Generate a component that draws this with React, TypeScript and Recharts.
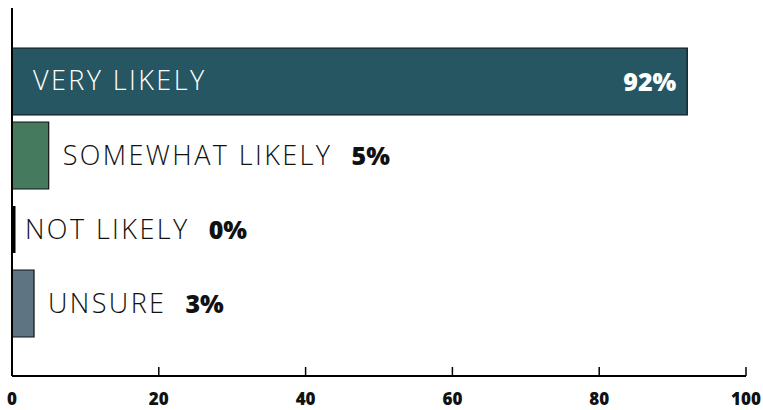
import React from "react";
import { BarChart, Bar, XAxis, YAxis, Cell, LabelList, ReferenceLine, Rectangle } from "recharts";

const categories = ["VERY LIKELY", "SOMEWHAT LIKELY", "NOT LIKELY", "UNSURE"];
const values = [92, 5, 0, 3];
const colors = ["#275663", "#457a5f", "#000000", "#5e7483"];
const xTicks = [0, 20, 40, 60, 80, 100];

const data = categories.map((name, i) => ({ name, value: values[i] }));

const LIGHT = "'Open Sans', sans-serif";
const BOLD = "'Open Sans', sans-serif";
const NAME_SIZE = 27;
const VALUE_SIZE = 25;
const SPACING = 2.4;

const renderLabel = (props: any) => {
  const { x, y, width, height, index } = props;
  const name = categories[index];
  const v = values[index];
  const base = y + height / 2 + 9;
  if (v > 50) {
    return (
      <g>
        <text x={x + 21} y={base - 1} fill="#ffffff" fontFamily={LIGHT} fontWeight={300} fontSize={NAME_SIZE} letterSpacing={SPACING}>
          {name}
        </text>
        <text x={x + width - 11} y={base} fill="#ffffff" textAnchor="end" fontFamily={BOLD} fontWeight={800} fontSize={VALUE_SIZE}>
          {v}%
        </text>
      </g>
    );
  }
  const startX = v === 0 ? x + 13 : x + width + 14;
  return (
    <text x={startX} y={base} fill="#111111" fontFamily={LIGHT} fontSize={NAME_SIZE}>
      <tspan fontWeight={300} letterSpacing={SPACING}>{name}</tspan>
      <tspan fontWeight={800} fontSize={VALUE_SIZE} letterSpacing={0} dx={19}>{v}%</tspan>
    </text>
  );
};

const renderShape = (props: any) => {
  const { x, y, width, height, value, fill } = props;
  const v = Array.isArray(value) ? value[1] - value[0] : value;
  if (!v) {
    return <rect x={x} y={y + height / 2 - 23.5} width={3.5} height={47} fill="#000" />;
  }
  return <Rectangle {...props} x={x} y={y} width={width} height={height} fill={fill} />;
};

export default function App() {
  return (
    <div style={{ position: "absolute", left: 0, top: 0, width: 763, height: 410 }}>
      <BarChart
        width={763}
        height={410}
        data={data}
        layout="vertical"
        margin={{ top: 8, right: 17, bottom: 0, left: 12 }}
        barSize={67}
      >
        <XAxis
          type="number"
          domain={[0, 100]}
          ticks={xTicks}
          axisLine={{ stroke: "#000", strokeWidth: 2 }}
          tickLine={{ stroke: "#000", strokeWidth: 1.5 }}
          tickSize={-9}
          tickMargin={26}
          height={34}
          interval={0}
          tick={{ fill: "#111", fontFamily: BOLD, fontWeight: 800, fontSize: 17 }}
        />
        <YAxis
          type="category"
          dataKey="name"
          width={0}
          tick={false}
          tickLine={false}
          axisLine={false}
          padding={{ top: 36, bottom: 36 }}
        />
        <ReferenceLine x={0} stroke="#000" strokeWidth={2} />
        <Bar dataKey="value" isAnimationActive={false} stroke="#111" strokeWidth={1.2} shape={renderShape}>
          {data.map((d, i) => (
            <Cell key={d.name} fill={colors[i]} />
          ))}
          <LabelList dataKey="value" content={renderLabel} />
        </Bar>
      </BarChart>
    </div>
  );
}
